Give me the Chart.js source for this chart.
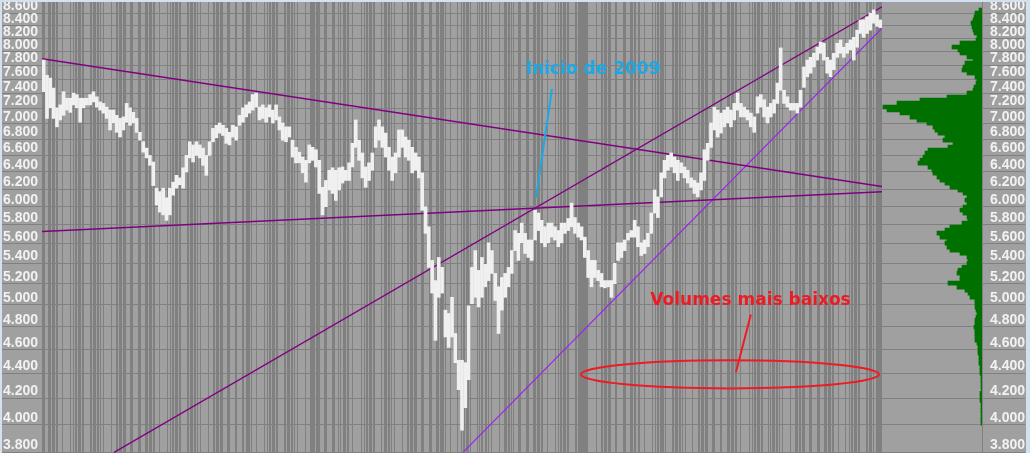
<!DOCTYPE html>
<html>
<head>
<meta charset="utf-8">
<script src="https://cdn.jsdelivr.net/npm/chart.js@4.4.0/dist/chart.umd.min.js"></script>
<style>
    html, body { margin: 0; padding: 0; background: #d3e0ef; }
    #wrap { position: absolute; left: 2px; top: 2px; width: 1024px; height: 451px; background: #a0a0a0; overflow: hidden; }
    #priceChart { position: absolute; left: 0; top: 0; }
    #profileChart { position: absolute; left: 880px; top: 0; }
</style>
</head>
<body>
<div id="wrap">
    <canvas id="priceChart" width="880" height="451"></canvas>
    <canvas id="profileChart" width="144" height="451"></canvas>
</div>
<script>
// price bars (high / low), one per period
const highs = [
    7.88, 7.66, 7.62, 7.48, 7.21, 7.25, 7.43, 7.34, 7.34, 7.41,
    7.39, 7.34, 7.34, 7.34, 7.39, 7.43, 7.36, 7.29, 7.27, 7.22,
    7.18, 7.18, 7.11, 7.07, 7.09, 7.27, 7.21, 7.15, 7.07, 6.89,
    6.77, 6.69, 6.60, 6.52, 6.21, 6.17, 6.21, 6.10, 6.21, 6.28,
    6.36, 6.33, 6.45, 6.60, 6.77, 6.73, 6.77, 6.73, 6.69, 6.60,
    6.77, 6.94, 6.98, 7.01, 6.98, 6.94, 6.89, 6.98, 6.96, 7.11,
    7.21, 7.25, 7.29, 7.39, 7.41, 7.22, 7.25, 7.21, 7.25, 7.18,
    7.25, 7.09, 7.01, 6.96, 6.96, 6.79, 6.70, 6.64, 6.58, 6.54,
    6.73, 6.70, 6.67, 6.54, 6.22, 6.30, 6.42, 6.45, 6.42, 6.45,
    6.46, 6.42, 6.51, 6.75, 7.05, 6.79, 6.63, 6.46, 6.51, 6.63,
    6.96, 7.05, 6.96, 6.88, 6.70, 6.58, 6.63, 6.92, 6.92, 6.83,
    6.79, 6.70, 6.63, 6.58, 6.39, 6.00, 5.78, 5.43, 5.23, 5.46,
    5.36, 4.95, 4.92, 5.07, 4.74, 4.51, 4.51, 4.49, 4.99, 5.36,
    5.53, 5.33, 5.46, 5.39, 5.61, 5.53, 5.30, 5.17, 5.26, 5.30,
    5.36, 5.53, 5.74, 5.71, 5.82, 5.71, 5.64, 5.64, 5.96, 5.93,
    5.85, 5.78, 5.82, 5.82, 5.78, 5.74, 5.82, 5.82, 5.87, 6.04,
    5.88, 5.82, 5.78, 5.67, 5.53, 5.43, 5.43, 5.33, 5.30, 5.23,
    5.23, 5.23, 5.40, 5.61, 5.61, 5.64, 5.71, 5.74, 5.85, 5.78,
    5.61, 5.64, 5.71, 5.93, 6.19, 6.11, 6.39, 6.54, 6.60, 6.63,
    6.58, 6.54, 6.51, 6.46, 6.42, 6.33, 6.30, 6.27, 6.39, 6.67,
    6.75, 7.01, 7.22, 7.18, 7.14, 7.18, 7.22, 7.18, 7.27, 7.41,
    7.27, 7.22, 7.18, 7.14, 7.09, 7.36, 7.39, 7.32, 7.22, 7.27,
    7.32, 7.55, 8.06, 7.45, 7.36, 7.27, 7.27, 7.27, 7.45, 7.78,
    7.88, 7.92, 7.98, 8.07, 8.15, 8.13, 7.92, 7.88, 7.98, 8.13,
    8.18, 8.07, 8.13, 8.18, 8.22, 8.33, 8.49, 8.49, 8.54, 8.60,
    8.65, 8.57, 8.49
];
const lows = [
    7.43, 7.07, 7.21, 7.07, 6.96, 7.05, 7.11, 7.18, 7.15, 7.25,
    7.21, 7.02, 7.21, 7.25, 7.25, 7.29, 7.22, 7.18, 7.14, 7.07,
    6.92, 7.01, 6.89, 6.83, 6.92, 7.02, 6.98, 7.01, 6.89, 6.79,
    6.64, 6.57, 6.48, 6.24, 6.02, 5.94, 5.91, 5.85, 5.91, 6.13,
    6.21, 6.25, 6.21, 6.40, 6.57, 6.52, 6.60, 6.57, 6.48, 6.36,
    6.60, 6.77, 6.82, 6.88, 6.85, 6.75, 6.73, 6.83, 6.79, 6.98,
    7.02, 7.09, 7.14, 7.18, 7.22, 7.05, 7.07, 7.02, 7.09, 7.01,
    7.05, 6.92, 6.79, 6.77, 6.83, 6.58, 6.51, 6.51, 6.39, 6.28,
    6.51, 6.54, 6.46, 6.15, 5.91, 6.00, 6.19, 6.15, 6.07, 6.19,
    6.27, 6.30, 6.30, 6.46, 6.70, 6.54, 6.33, 6.22, 6.30, 6.42,
    6.70, 6.79, 6.70, 6.58, 6.42, 6.30, 6.39, 6.58, 6.70, 6.58,
    6.54, 6.39, 6.42, 6.33, 5.96, 5.71, 5.36, 5.11, 4.68, 5.07,
    5.11, 4.71, 4.62, 4.71, 4.49, 4.27, 3.96, 4.13, 4.35, 5.01,
    5.07, 4.98, 5.07, 5.17, 5.23, 5.30, 5.04, 4.74, 4.95, 5.07,
    5.17, 5.30, 5.53, 5.43, 5.61, 5.50, 5.46, 5.43, 5.64, 5.74,
    5.61, 5.57, 5.61, 5.67, 5.64, 5.57, 5.61, 5.71, 5.74, 5.78,
    5.71, 5.67, 5.64, 5.46, 5.26, 5.17, 5.26, 5.23, 5.17, 5.16,
    5.17, 5.07, 5.20, 5.43, 5.46, 5.53, 5.64, 5.67, 5.67, 5.57,
    5.48, 5.50, 5.57, 5.71, 5.93, 5.88, 6.11, 6.33, 6.42, 6.46,
    6.39, 6.30, 6.39, 6.33, 6.27, 6.22, 6.15, 6.11, 6.19, 6.30,
    6.54, 6.70, 6.92, 6.83, 6.88, 6.96, 7.01, 6.96, 7.05, 7.18,
    7.09, 7.09, 7.05, 6.96, 6.89, 7.14, 7.22, 7.09, 7.01, 7.09,
    7.14, 7.27, 7.45, 7.27, 7.22, 7.18, 7.18, 7.14, 7.22, 7.49,
    7.64, 7.69, 7.78, 7.88, 7.98, 7.88, 7.69, 7.64, 7.74, 7.92,
    7.98, 7.92, 7.98, 8.03, 7.88, 8.07, 8.28, 8.22, 8.28, 8.33,
    8.44, 8.39, 8.37
];

// trend lines: [start, end] in (period, price)
const trendX = [[0.5, 253.5], [0.5, 253.5], [22.2, 253.5], [127.3, 253.5]];
const trendY = [[7.90, 6.23], [5.73, 6.17], [3.80, 8.70], [3.80, 8.36]];

// volume profile (price level -> volume)
const profilePrice = [
    8.648, 8.600, 8.537, 8.489, 8.442, 8.379, 8.332, 8.286, 8.225, 8.179,
    8.134, 8.073, 8.028, 7.984, 7.925, 7.881, 7.837, 7.779, 7.735, 7.692,
    7.636, 7.593, 7.551, 7.495, 7.453, 7.412, 7.357, 7.316, 7.276, 7.222,
    7.181, 7.141, 7.088, 7.048, 7.009, 6.957, 6.918, 6.880, 6.829, 6.791,
    6.753, 6.704, 6.666, 6.629, 6.580, 6.543, 6.507, 6.458, 6.422, 6.387,
    6.340, 6.304, 6.269, 6.223, 6.188, 6.154, 6.108, 6.074, 6.040, 5.996,
    5.962, 5.929, 5.885, 5.852, 5.820, 5.777, 5.744, 5.712, 5.670, 5.638,
    5.607, 5.565, 5.534, 5.503, 5.463, 5.432, 5.402, 5.362, 5.332, 5.303,
    5.263, 5.234, 5.205, 5.166, 5.137, 5.109, 5.071, 5.043, 5.015, 4.978,
    4.950, 4.923, 4.886, 4.859, 4.832, 4.796, 4.769, 4.743, 4.716, 4.681,
    4.655, 4.621, 4.595, 4.570, 4.536, 4.510, 4.485, 4.452, 4.427, 4.402,
    4.370, 4.345, 4.321, 4.289, 4.265, 4.242, 4.211, 4.187, 4.164, 4.133,
    4.110, 4.087, 4.057, 4.034, 4.012
];
const profileVol = [
    3, 7, 8, 9, 11, 10, 9, 8, 5, 6,
    22, 30, 24, 22, 15, 9, 17, 19, 20, 15,
    7, 5, 6, 8, 9, 15, 35, 62, 85, 99,
    95, 82, 72, 65, 55, 49, 47, 44, 37, 39,
    29, 34, 54, 57, 59, 62, 64, 54, 50, 49,
    45, 42, 37, 32, 24, 19, 15, 17, 15, 19,
    22, 19, 15, 14, 20, 32, 37, 45, 42, 35,
    37, 35, 32, 22, 15, 14, 15, 20, 24, 25,
    22, 22, 34, 25, 17, 14, 12, 7, 7, 7,
    6, 5, 6, 7, 7, 8, 7, 7, 7, 7,
    5, 4, 4, 4, 3, 3, 3, 2, 2, 2,
    1, 1, 1, 1, 0.5, 2, 2, 2, 1, 1,
    1, 1, 1, 1, 1
];

const yTicks = [3.8, 4.0, 4.2, 4.4, 4.6, 4.8, 5.0, 5.2, 5.4, 5.6, 5.8, 6.0, 6.2,
    6.4, 6.6, 6.8, 7.0, 7.2, 7.4, 7.6, 7.8, 8.0, 8.2, 8.4, 8.6];

const Y_MIN = 3.796;
const Y_MAX = 8.778;
const GRID = '#808080';
const LABEL_FONT = { family: "'Liberation Sans', Arial, sans-serif", weight: 'bold', size: 14 };

// vertical stripes behind the price (one possible line per pixel column)
function stripeDark(p) {
    if ((p >= 268 && p <= 276) || (p >= 538 && p <= 546) || p >= 834 || p <= 2) return true;
    return ((p * p * 13 + p * 7) % 97) < 38;
}

const priceData = highs.map((h, i) => ({ x: i + 1, y: [lows[i], h] }));

const trendColors = ['#800080', '#800080', '#800080', '#9a22ee'];
const trendWidths = [1.5, 1.5, 1.3, 1.2];
const trendSets = trendX.map((xs, k) => ({
    type: 'line',
    data: [{ x: xs[0], y: trendY[k][0] }, { x: xs[1], y: trendY[k][1] }],
    borderColor: trendColors[k],
    borderWidth: trendWidths[k],
    pointRadius: 0,
    tension: 0
}));

const notesPlugin = {
    id: 'notes',
    afterDatasetsDraw(chart) {
        const { ctx } = chart;
        const xs = chart.scales.x;
        const ys = chart.scales.y;
        const px = v => xs.getPixelForValue(v);
        const py = v => ys.getPixelForValue(v);
        ctx.save();
        ctx.font = 'bold 17px "DejaVu Sans", Verdana, sans-serif';
        ctx.textAlign = 'center';
        ctx.textBaseline = 'middle';
        ctx.lineWidth = 2;

        // Inicio de 2009
        const cyan = '#1ba8e4';
        ctx.fillStyle = cyan;
        ctx.fillText('Inicio de 2009', px(166.5), py(7.74));
        ctx.strokeStyle = cyan;
        ctx.beginPath();
        ctx.moveTo(px(154.1), py(7.47));
        ctx.lineTo(px(149.3), py(6.10));
        ctx.stroke();

        // Volumes mais baixos
        const red = '#ec1c24';
        ctx.fillStyle = red;
        ctx.fillText('Volumes mais baixos', px(213.9), py(5.04));
        ctx.strokeStyle = red;
        ctx.beginPath();
        ctx.moveTo(px(214.0), py(4.91));
        ctx.lineTo(px(209.5), py(4.41));
        ctx.stroke();
        const cx = px(207.7);
        const rx = px(207.7 + 44.9) - cx;
        const top = py(4.51);
        const bottom = py(4.28);
        ctx.beginPath();
        ctx.ellipse(cx, (top + bottom) / 2, rx, (bottom - top) / 2, 0, 0, Math.PI * 2);
        ctx.stroke();
        ctx.restore();
    }
};

const yTickBuild = s => { s.ticks = yTicks.map(v => ({ value: v })); };

new Chart(document.getElementById('priceChart'), {
    type: 'bar',
    data: {
        datasets: [{
            data: priceData,
            backgroundColor: '#f0f0f0',
            borderWidth: 0,
            barThickness: 3
        }, ...trendSets]
    },
    options: {
        responsive: false,
        devicePixelRatio: 1,
        animation: false,
        layout: { padding: { left: 1, right: 0, top: 0, bottom: 0 } },
        plugins: { legend: { display: false }, tooltip: { enabled: false } },
        scales: {
            x: {
                type: 'linear',
                min: 0.5,
                max: 253.5,
                bounds: 'data',
                offset: false,
                grid: {
                    offset: false,
                    drawTicks: false,
                    lineWidth: 1,
                    color: c => stripeDark(c.index) ? GRID : 'rgba(0,0,0,0)'
                },
                border: { display: false },
                ticks: { display: false },
                afterBuildTicks: s => {
                    const t = [];
                    for (let p = 0; p < 840; p++) t.push({ value: 0.5 + p * 253 / 840 });
                    s.ticks = t;
                },
                afterFit: s => { s.height = 0; s.paddingLeft = 0; s.paddingRight = 0; }
            },
            y: {
                type: 'logarithmic',
                position: 'left',
                min: Y_MIN,
                max: Y_MAX,
                bounds: 'data',
                offset: false,
                grid: { color: GRID, lineWidth: 1, tickLength: 40, offset: false },
                border: { display: true, color: GRID },
                ticks: {
                    autoSkip: false,
                    crossAlign: 'far',
                    labelOffset: -7,
                    color: '#f2f2f2',
                    font: LABEL_FONT,
                    callback: v => Number(v).toFixed(3)
                },
                afterBuildTicks: yTickBuild,
                afterFit: s => { s.width = 39; s.paddingTop = 0; s.paddingBottom = 0; }
            }
        }
    },
    plugins: [notesPlugin]
});

new Chart(document.getElementById('profileChart'), {
    type: 'bar',
    data: {
        datasets: [{
            data: profilePrice.map((p, i) => ({ x: profileVol[i], y: p })),
            backgroundColor: '#007000',
            borderWidth: 0,
            barThickness: 4
        }]
    },
    options: {
        indexAxis: 'y',
        responsive: false,
        devicePixelRatio: 1,
        animation: false,
        layout: { padding: { left: 0, right: 1, top: 0, bottom: 0 } },
        plugins: { legend: { display: false }, tooltip: { enabled: false } },
        scales: {
            x: { type: 'linear', display: false, min: 0, max: 100, reverse: true },
            y: {
                type: 'logarithmic',
                position: 'right',
                min: Y_MIN,
                max: Y_MAX,
                bounds: 'data',
                offset: false,
                grid: { color: GRID, lineWidth: 1, tickLength: 43, offset: false },
                border: { display: true, color: GRID },
                ticks: {
                    autoSkip: false,
                    crossAlign: 'far',
                    labelOffset: -7,
                    color: '#f2f2f2',
                    font: LABEL_FONT,
                    callback: v => Number(v).toFixed(3)
                },
                afterBuildTicks: yTickBuild,
                afterFit: s => { s.width = 43; s.paddingTop = 0; s.paddingBottom = 0; }
            }
        }
    }
});
</script>
</body>
</html>
